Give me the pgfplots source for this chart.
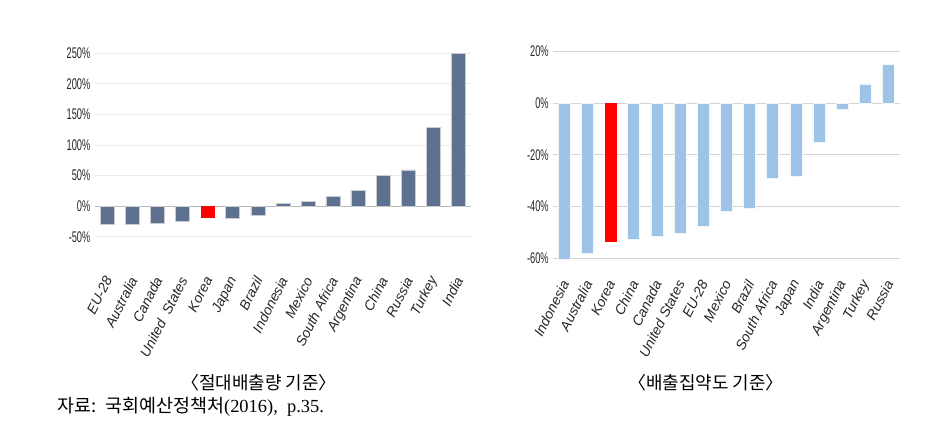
\documentclass[border=0pt]{standalone}
\usepackage{pgfplots}
\pgfplotsset{compat=1.18}
\usepackage{fontspec}
\setmainfont{Liberation Serif}
\newfontfamily\cjk{Noto Sans CJK KR}
\newfontfamily\arial{Liberation Sans}
\definecolor{barL}{RGB}{94,113,145}
\definecolor{barR}{RGB}{157,195,230}
\definecolor{hi}{RGB}{255,0,0}
\pgfplotsset{
  common/.style={
    scale only axis,
    xmin=-0.5, xmax=14.5,
    xtick={0,...,14},
    axis line style={draw=none},
    major tick length=0pt,
    ymajorgrids,
    yticklabel style={font=\arial\fontsize{15.5}{15.5}\selectfont, text=black!85, inner sep=0pt, anchor=east, xscale=0.6},
    xticklabel style={font=\arial\itshape\fontsize{14}{14}\selectfont, text=black!85, inner sep=0pt, anchor=east},
  }
}
\begin{document}
\begin{tikzpicture}
\useasboundingbox (0,0) rectangle (931bp,433bp);
% left chart
\begin{axis}[common,
  at={(95bp,196.3bp)}, anchor=south west,
  width=375.7bp, height=183.4bp,
  ymin=-50, ymax=250,
  ytick={-50,0,50,100,150,200,250},
  yticklabels={-50\%,0\%,50\%,100\%,150\%,200\%,250\%},
  yticklabel style={xshift=-7.5bp},
  grid style={draw=black!8, line width=0.8pt},
  extra y ticks={0}, extra y tick labels={},
  extra y tick style={grid style={draw=black!28, line width=0.9pt}},
  xticklabels={EU-28,Australia,Canada,United~~States,Korea,Japan,Brazil,Indonesia,Mexico,South Africa,Argentina,China,Russia,Turkey,India},
  xticklabel style={yshift=-41bp, xshift=1bp, rotate=63},
]
\addplot[ybar, bar width=14bp, bar shift=0pt, fill=barL, draw=black!20, line width=0.6pt]
 coordinates {(0,-30.2) (1,-30.2) (2,-28.6) (3,-24.2) (5,-19.2) (6,-14.8) (7,4.9) (8,7.1) (9,16.5) (10,25.3) (11,50.5) (12,59.3) (13,129) (14,250)};
\addplot[ybar, bar width=14bp, bar shift=0pt, fill=hi, draw=none]
 coordinates {(4,-19.2)};
\end{axis}
% right chart
\begin{axis}[common,
  at={(552.7bp,174.7bp)}, anchor=south west,
  width=347.3bp, height=207bp,
  ymin=-60, ymax=20, clip=false,
  ytick={-60,-40,-20,0,20},
  yticklabels={-60\%,-40\%,-20\%,0\%,20\%},
  yticklabel style={xshift=-6.5bp},
  grid style={draw=black!17, line width=0.8pt},
  xticklabels={Indonesia,Australia,Korea,China,Canada,United States,EU-28,Mexico,Brazil,South Africa,Japan,India,Argentina,Turkey,Russia},
  xticklabel style={yshift=-23bp, xshift=1bp, rotate=63},
]
\addplot[ybar, bar width=12bp, bar shift=0pt, fill=barR, draw=white!85!barR, line width=0.6pt]
 coordinates {(0,-60.5) (1,-58) (3,-52.5) (4,-51.5) (5,-50.3) (6,-47.7) (7,-41.7) (8,-40.8) (9,-29.2) (10,-28.5) (11,-15) (12,-2.5) (13,7.4) (14,15)};
\addplot[ybar, bar width=12bp, bar shift=0pt, fill=hi, draw=none]
 coordinates {(2,-53.7)};
\end{axis}
\node[font=\cjk\fontsize{18}{18}\selectfont] at (259bp,50bp) {〈절대배출량 기준〉};
\node[font=\cjk\fontsize{18}{18}\selectfont] at (706bp,50bp) {〈배출집약도 기준〉};
\node[anchor=west, inner sep=0pt, font=\fontsize{18.5}{18.5}\selectfont] at (57bp,26bp) {{\cjk 자료:}~~{\cjk 국회예산정책처}(2016),~~p.35.};
\end{tikzpicture}
\end{document}
